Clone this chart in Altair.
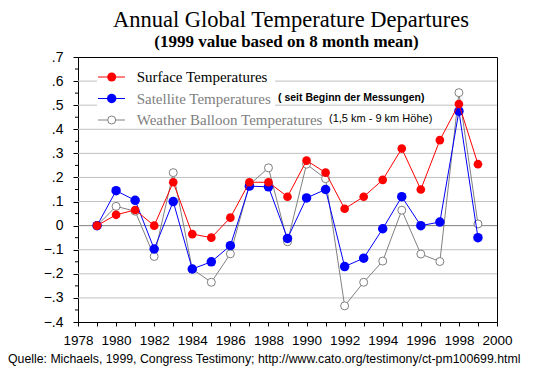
import altair as alt
import pandas as pd

# ---- data ----
years = [1979, 1980, 1981, 1982, 1983, 1984, 1985, 1986, 1987, 1988, 1989,
         1990, 1991, 1992, 1993, 1994, 1995, 1996, 1997, 1998, 1999]
surface = [0.00, 0.045, 0.065, 0.00, 0.18, -0.035, -0.05, 0.033, 0.18, 0.18, 0.12,
           0.27, 0.22, 0.07, 0.12, 0.19, 0.32, 0.15, 0.355, 0.505, 0.255]
satellite = [0.00, 0.145, 0.105, -0.097, 0.10, -0.18, -0.15, -0.083, 0.164, 0.161, -0.053,
             0.115, 0.15, -0.17, -0.135, -0.013, 0.12, 0.00, 0.015, 0.475, -0.05]
balloon = [0.00, 0.08, 0.06, -0.128, 0.22, -0.18, -0.235, -0.117, 0.17, 0.24, -0.067,
           0.255, 0.195, -0.333, -0.235, -0.147, 0.064, -0.118, -0.149, 0.552, 0.007]

x_tick_values = [1978, 1979, 1980, 1981, 1982, 1983, 1984, 1985, 1986, 1987, 1988, 1989,
                 1990, 1991, 1992, 1993, 1994, 1995, 1996, 1997, 1998, 1999, 2000]
y_tick_values = [-0.4, -0.3, -0.2, -0.1, 0.0, 0.1, 0.2, 0.3, 0.4, 0.5, 0.6, 0.7]
y_tick_labels = ["\u2212.4", "\u2212.3", "\u2212.2", "\u2212.1", "0", ".1", ".2", ".3", ".4", ".5", ".6", ".7"]
y_minor_ticks = [-0.35, -0.25, -0.15, -0.05, 0.05, 0.15, 0.25, 0.35, 0.45, 0.55, 0.65]
grid_values = [-0.3, -0.2, -0.1, 0.1, 0.2, 0.3, 0.4, 0.5, 0.6]

title_text = "Annual Global Temperature Departures"
subtitle_text = "(1999 value based on 8 month mean)"
caption_text = "Quelle: Michaels, 1999, Congress Testimony; http://www.cato.org/testimony/ct-pm100699.html"
legend_names = ["Surface Temperatures", "Satellite  Temperatures", "Weather Balloon Temperatures"]
legend_notes = ["", "( seit Beginn der Messungen)", "(1,5 km - 9 km H\u00f6he)"]

RED, BLUE, GREY = "#ff0000", "#0000ff", "#808080"
SERIF = "Liberation Serif"
SANS = "Liberation Sans"

W, H = 419, 265

df = pd.DataFrame({"year": years, "surface": surface, "satellite": satellite, "balloon": balloon})
one = alt.Data(values=[{"a": 1}])

x_scale = alt.Scale(domain=[1978, 2000], nice=False, zero=False)
y_scale = alt.Scale(domain=[-0.4, 0.7], nice=False, zero=False)

y_label_expr = "[" + ",".join("'" + s + "'" for s in y_tick_labels) + "][round((datum.value + 0.4) * 10)]"

x_axis = alt.Axis(values=x_tick_values, labelExpr="datum.value % 2 == 0 ? '' + datum.value : ''",
                  title=None, grid=False, tickSize=4, labelPadding=7, labelFont=SANS,
                  labelFontSize=13.5, labelColor="black", domainColor="black", tickColor="black",
                  labelFlush=False, labelOverlap=False)
y_axis = alt.Axis(values=y_tick_values, labelExpr=y_label_expr, title=None, grid=False,
                  tickSize=5, labelPadding=10, labelFont=SANS, labelFontSize=14,
                  labelColor="black", domainColor="black", tickColor="black",
                  labelFlush=False, labelOverlap=False)


def X(field="year"):
    return alt.X(field + ":Q", scale=x_scale, axis=x_axis)


def Y(field):
    return alt.Y(field + ":Q", scale=y_scale, axis=y_axis)


base = alt.Chart(df)

grid = alt.Chart(pd.DataFrame({"v": grid_values})).mark_rule(color="#c0c0c0", strokeWidth=1).encode(
    y=Y("v"), x=alt.value(0), x2=alt.value(W))
zero = alt.Chart(pd.DataFrame({"v": [0.0]})).mark_rule(color="#808080", strokeWidth=1).encode(
    y=Y("v"), x=alt.value(0), x2=alt.value(W))
minor = alt.Chart(pd.DataFrame({"v": y_minor_ticks})).mark_rule(color="black", strokeWidth=1).encode(
    y=Y("v"), x=alt.value(-3), x2=alt.value(0))

# legend
leg_rect = alt.Chart(one).mark_rect(color="white").encode(
    x=alt.value(19), x2=alt.value(197), y=alt.value(9), y2=alt.value(70))
leg_rows = [20, 41.5, 63]
leg_colors = [RED, BLUE, GREY]
leg_text_colors = ["black", GREY, GREY]
legend_layers = [leg_rect]
for i in range(3):
    yy = leg_rows[i]
    legend_layers.append(alt.Chart(one).mark_rule(color=leg_colors[i], strokeWidth=1).encode(
        x=alt.value(20), x2=alt.value(47), y=alt.value(yy)))
    if i < 2:
        legend_layers.append(alt.Chart(one).mark_point(shape="circle", filled=True, color=leg_colors[i],
                                                     size=80 if i == 0 else 90, opacity=1).encode(
            x=alt.value(33.7), y=alt.value(yy)))
    else:
        legend_layers.append(alt.Chart(one).mark_point(shape="circle", filled=True, fill="white",
                                                     stroke=GREY, strokeWidth=1, size=64, opacity=1).encode(
            x=alt.value(33.7), y=alt.value(yy)))
    legend_layers.append(alt.Chart(one).mark_text(text=legend_names[i], font=SERIF, fontSize=15,
                                                color=leg_text_colors[i], align="left", baseline="middle").encode(
        x=alt.value(58.7), y=alt.value(yy)))
legend_layers.append(alt.Chart(one).mark_text(text=legend_notes[1], font=SANS, fontSize=10.5, fontWeight="bold",
                                            color="black", align="left", baseline="middle").encode(
    x=alt.value(200), y=alt.value(leg_rows[1] - 1)))
legend_layers.append(alt.Chart(one).mark_text(text=legend_notes[2], font=SANS, fontSize=11,
                                            color="black", align="left", baseline="middle").encode(
    x=alt.value(251), y=alt.value(leg_rows[2] - 1)))


def series(field, color, filled, size):
    line = base.mark_line(color=color, strokeWidth=1).encode(x=X(), y=Y(field))
    if filled:
        pts = base.mark_point(shape="circle", filled=True, color=color, size=size, opacity=1)
    else:
        pts = base.mark_point(shape="circle", filled=True, fill="white", stroke=color,
                              strokeWidth=1, size=size, opacity=1)
    pts = pts.encode(x=X(), y=Y(field))
    return [line, pts]


data_layers = series("balloon", GREY, False, 64) + series("satellite", BLUE, True, 90) + \
    series("surface", RED, True, 75)

texts = [
    alt.Chart(one).mark_text(text=title_text, font=SERIF, fontSize=22.5, color="black",
                             align="center", baseline="alphabetic").encode(x=alt.value(213), y=alt.value(-30.5)),
    alt.Chart(one).mark_text(text=subtitle_text, font=SERIF, fontSize=17, fontWeight="bold", color="black",
                             align="center", baseline="alphabetic").encode(x=alt.value(208.5), y=alt.value(-10.5)),
    alt.Chart(one).mark_text(text=caption_text, font=SANS, fontSize=12.3, color="black",
                             align="left", baseline="alphabetic").encode(x=alt.value(-70), y=alt.value(305.5)),
]

chart = alt.layer(grid, zero, minor, *legend_layers, *data_layers, *texts).properties(
    width=W, height=H,
    autosize=alt.AutoSizeParams(type="none"),
    padding={"left": 70, "top": 49, "right": 45, "bottom": 46},
    background="white",
).configure_view(stroke="black", strokeWidth=1)

chart.save("out.html", embed_options={"renderer": "svg", "actions": False})
